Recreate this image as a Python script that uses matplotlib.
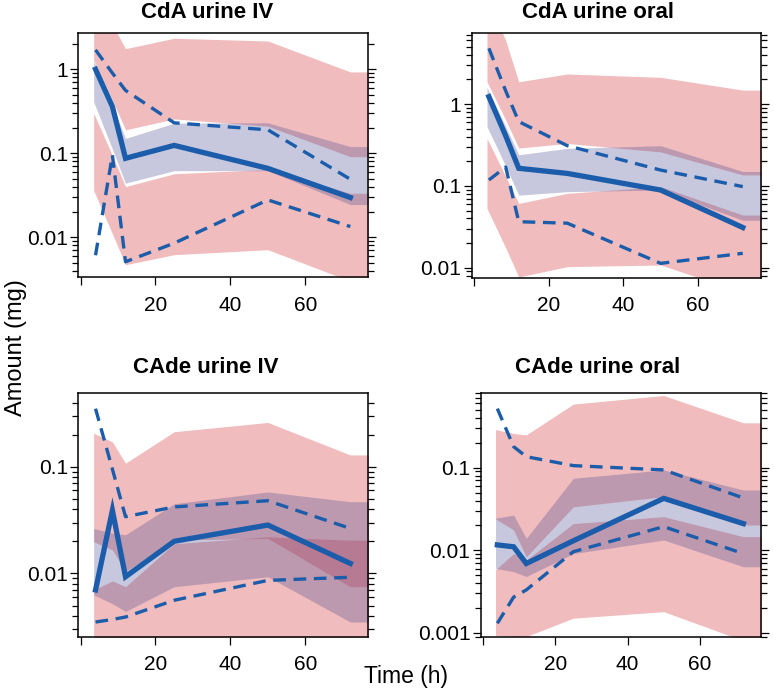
import matplotlib
matplotlib.use("Agg")
import matplotlib.pyplot as plt
from matplotlib.ticker import FixedLocator, FixedFormatter, NullFormatter

plt.rcParams['font.family'] = ['Liberation Sans', 'DejaVu Sans']

# time points (h) of the observed percentiles and of the simulated bands
times = [4, 8.5, 12, 25, 50, 72]
band_t = [3.5, 8.5, 12, 25, 50, 72]

# ---- CdA urine IV ----
cda_iv_med = [1.0, 0.36, 0.087, 0.124, 0.066, 0.0297]
cda_iv_p95 = [1.7, 0.9, 0.56, 0.23, 0.19, 0.049]
cda_iv_p05 = [0.0061, 0.095, 0.0051, 0.0085, 0.0278, 0.0134]
cda_iv_up_hi = [5.0, 3.4, 1.76, 2.34, 2.17, 0.93]
cda_iv_up_lo = [1.3, 0.43, 0.19, 0.256, 0.21, 0.091]
cda_iv_md_hi = [1.28, 0.37, 0.15, 0.228, 0.23, 0.12]
cda_iv_md_lo = [0.41, 0.112, 0.044, 0.062, 0.062, 0.0245]
cda_iv_lw_hi = [0.30, 0.094, 0.040, 0.057, 0.064, 0.0334]
cda_iv_lw_lo = [0.036, 0.011, 0.0047, 0.0062, 0.0071, 0.003]

# ---- CdA urine oral ----
cda_po_med = [1.23, 0.41, 0.164, 0.142, 0.089, 0.031]
cda_po_p95 = [4.8, 1.45, 0.61, 0.31, 0.156, 0.098]
cda_po_p05 = [0.118, 0.17, 0.0365, 0.035, 0.0113, 0.015]
cda_po_up_hi = [20.0, 6.0, 1.87, 2.33, 2.12, 1.48]
cda_po_up_lo = [1.87, 0.64, 0.29, 0.33, 0.26, 0.136]
cda_po_md_hi = [1.6, 0.53, 0.24, 0.287, 0.31, 0.15]
cda_po_md_lo = [0.53, 0.175, 0.077, 0.085, 0.089, 0.038]
cda_po_lw_hi = [0.38, 0.13, 0.061, 0.081, 0.098, 0.044]
cda_po_lw_lo = [0.053, 0.0175, 0.0077, 0.0103, 0.0108, 0.005]

# ---- CAde urine IV ----
cade_iv_med = [0.0070, 0.039, 0.0093, 0.020, 0.0284, 0.0124]
cade_iv_p95 = [0.35, 0.095, 0.034, 0.042, 0.048, 0.0264]
cade_iv_p05 = [0.0035, 0.0037, 0.0039, 0.0056, 0.0086, 0.0092]
cade_iv_up_hi = [0.206, 0.171, 0.108, 0.213, 0.26, 0.129]
cade_iv_up_lo = [0.0198, 0.0166, 0.0104, 0.0205, 0.0213, 0.0075]
cade_iv_md_hi = [0.0264, 0.0238, 0.023, 0.045, 0.058, 0.047]
cade_iv_md_lo = [0.0063, 0.0052, 0.0044, 0.0075, 0.0093, 0.0035]
cade_iv_lw_hi = [0.007, 0.0085, 0.0075, 0.019, 0.022, 0.0205]
cade_iv_lw_lo = [0.001, 0.001, 0.001, 0.001, 0.001, 0.001]

# ---- CAde urine oral ----
cade_po_med = [0.0116, 0.011, 0.0069, 0.013, 0.0425, 0.021]
cade_po_p95 = [0.52, 0.18, 0.136, 0.106, 0.094, 0.043]
cade_po_p05 = [0.0013, 0.0027, 0.0033, 0.0096, 0.0193, 0.0091]
cade_po_up_hi = [0.29, 0.26, 0.25, 0.59, 0.75, 0.35]
cade_po_up_lo = [0.024, 0.0176, 0.0083, 0.0336, 0.0446, 0.0202]
cade_po_md_hi = [0.0244, 0.0267, 0.0139, 0.0744, 0.094, 0.0537]
cade_po_md_lo = [0.006, 0.0055, 0.0048, 0.0091, 0.0133, 0.0063]
cade_po_lw_hi = [0.0058, 0.0091, 0.0076, 0.021, 0.0255, 0.0146]
cade_po_lw_lo = [0.00093, 0.0009, 0.0009, 0.0015, 0.0018, 0.0008]

titles = ["CdA urine IV", "CdA urine oral", "CAde urine IV", "CAde urine oral"]
x_ticks = [0, 20, 40, 60]
x_labels = ["", "20", "40", "60"]

PINK = (212/255, 64/255, 69/255)
LAV = (72/255, 72/255, 145/255)
BLUE = "#1B5DAA"

fig = plt.figure(figsize=(7.74, 6.93), dpi=100)
W, H = 774.0, 693.0

def box(l, t, r, b):
    return [l / W, 1 - b / H, (r - l) / W, (b - t) / H]

panels = [
    (box(78.3, 33.3, 368.3, 277.0), (0.00336, 2.68),
     cda_iv_med, cda_iv_p95, cda_iv_p05, cda_iv_up_hi, cda_iv_up_lo,
     cda_iv_md_hi, cda_iv_md_lo, cda_iv_lw_hi, cda_iv_lw_lo),
    (box(471.7, 33.3, 760.7, 277.7), (0.00755, 7.32),
     cda_po_med, cda_po_p95, cda_po_p05, cda_po_up_hi, cda_po_up_lo,
     cda_po_md_hi, cda_po_md_lo, cda_po_lw_hi, cda_po_lw_lo),
    (box(78.3, 393.3, 368.3, 636.7), (0.00255, 0.488),
     cade_iv_med, cade_iv_p95, cade_iv_p05, cade_iv_up_hi, cade_iv_up_lo,
     cade_iv_md_hi, cade_iv_md_lo, cade_iv_lw_hi, cade_iv_lw_lo),
    (box(480.7, 392.7, 760.7, 636.7), (0.000895, 0.811),
     cade_po_med, cade_po_p95, cade_po_p05, cade_po_up_hi, cade_po_up_lo,
     cade_po_md_hi, cade_po_md_lo, cade_po_lw_hi, cade_po_lw_lo),
]

xlim = (-0.6, 76.8)
title_xy = [(207, 18), (598, 18), (206, 373), (598, 373)]

for i, p in enumerate(panels):
    pos, ylim, med, p95, p05, up_hi, up_lo, md_hi, md_lo, lw_hi, lw_lo = p
    ax = fig.add_axes(pos)
    ax.set_yscale('log')

    # bands run flat from the last bin to the panel edge
    bx = band_t + [xlim[1] + 5]
    ext = lambda v: v + [v[-1]]

    ax.fill_between(bx, ext(up_lo), ext(up_hi), color=PINK, alpha=0.35, lw=0)
    ax.fill_between(bx, ext(lw_lo), ext(lw_hi), color=PINK, alpha=0.35, lw=0)
    ax.fill_between(bx, ext(md_lo), ext(md_hi), color=LAV, alpha=0.3, lw=0)

    ax.plot(times, med, color=BLUE, lw=3.8, solid_joinstyle='miter')
    ax.plot(times, p95, color=BLUE, lw=2.4, dashes=(3.8, 2.3))
    ax.plot(times, p05, color=BLUE, lw=2.4, dashes=(3.8, 2.3))

    ax.set_xlim(xlim)
    ax.set_ylim(ylim)

    # log ticks: labels at decades, unlabelled ticks at 2..9
    lo_dec = -3
    majors = [10.0 ** k for k in range(lo_dec, 2)]
    majors = [m for m in majors if ylim[0] <= m <= ylim[1]]
    minors = [m * s for m in [10.0 ** k for k in range(lo_dec - 1, 2)] for s in range(2, 10)]
    minors = [m for m in minors if ylim[0] <= m <= ylim[1]]
    ax.yaxis.set_major_locator(FixedLocator(majors))
    ax.yaxis.set_major_formatter(FixedFormatter(['%g' % m for m in majors]))
    ax.yaxis.set_minor_locator(FixedLocator(minors))
    ax.yaxis.set_minor_formatter(NullFormatter())
    ax.xaxis.set_major_locator(FixedLocator(x_ticks))
    ax.xaxis.set_major_formatter(FixedFormatter(x_labels))
    ax.xaxis.set_minor_locator(FixedLocator([]))

    ax.tick_params(axis='y', which='both', direction='out', left=True, right=True,
                   labelleft=True, labelright=False, width=0.9)
    ax.tick_params(axis='y', which='major', length=5.5, labelsize=15, pad=2)
    ax.tick_params(axis='y', which='minor', length=4.5)
    ax.tick_params(axis='x', which='major', direction='out', top=False, bottom=True,
                   length=5.5, width=0.9, labelsize=15, pad=8)
    for s in ax.spines.values():
        s.set_linewidth(1.1)

    fig.text(title_xy[i][0] / W, 1 - title_xy[i][1] / H, titles[i],
             ha='center', va='baseline', fontsize=16, fontweight='bold')

fig.text(16 / W, 1 - 348 / H, "Amount (mg)", rotation=90, ha='center', va='center', fontsize=17)
fig.text(406 / W, 1 - 677 / H, "Time (h)", ha='center', va='center', fontsize=16.5)

plt.savefig("out.png", dpi=100)
